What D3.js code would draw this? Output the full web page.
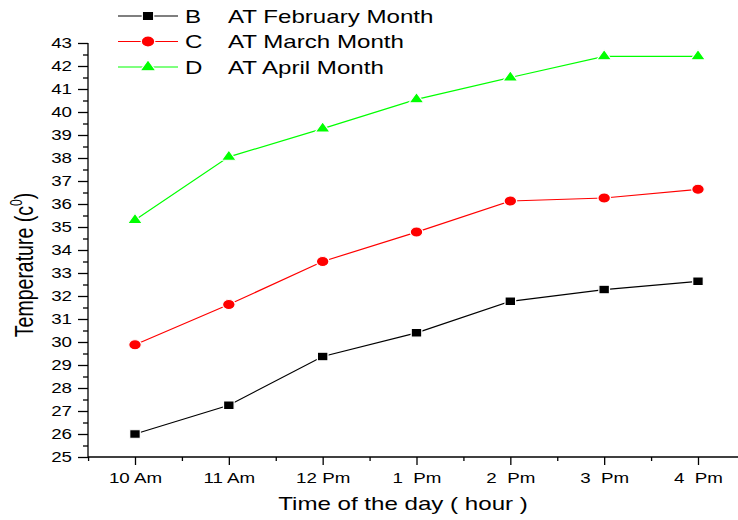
<!DOCTYPE html>
<html>
<head>
<meta charset="utf-8">
<style>
    body { margin: 0; background: #fff; }
    text { font-family: "Liberation Sans", Arial, sans-serif; fill: #000; }
</style>
</head>
<body>
<svg id="chart" width="738" height="520"></svg>
<script src="https://cdn.jsdelivr.net/npm/d3@7"></script>
<script>
    // categories on the x axis
    const hours = ["10 Am", "11 Am", "12 Pm", "1  Pm", "2  Pm", "3  Pm", "4  Pm"]

    // temperature readings
    const february = [26.0, 27.25, 29.37, 30.4, 31.77, 32.28, 32.64]
    const march = [29.88, 31.63, 33.5, 34.78, 36.13, 36.26, 36.64]
    const april = [35.3, 38.05, 39.28, 40.55, 41.5, 42.42, 42.42]

    const seriesLetters = ["B", "C", "D"]
    const seriesLabels = ["AT February Month", "AT March Month", "AT April Month"]
    const yTicks = d3.range(25, 44, 1)

    const stretch = 1.34 // the original picture is stretched sideways

    const svg = d3.select("#chart")

    const x = d3.scaleLinear().domain([0, 6]).range([135, 698])
    const y = d3.scaleLinear().domain([25, 43]).range([457, 43])

    // axis lines
    svg.append("line")
        .attr("x1", 88).attr("x2", 738)
        .attr("y1", y(25)).attr("y2", y(25))
        .attr("stroke", "#000").attr("stroke-width", 1.3)
    svg.append("line")
        .attr("x1", 88).attr("x2", 88)
        .attr("y1", y(43)).attr("y2", y(25))
        .attr("stroke", "#000").attr("stroke-width", 1.3)

    // x axis, major ticks with labels
    let xAxis = svg.append("g")
        .attr("transform", `translate(0,${y(25)})`)
        .call(d3.axisBottom(x).tickValues(d3.range(7)).tickSize(8).tickFormat(i => hours[i]))
    xAxis.select(".domain").remove()
    xAxis.selectAll("line").attr("stroke-width", 1.3)
    xAxis.selectAll("text")
        .attr("y", 16)
        .attr("font-size", 14)
        .attr("transform", `scale(${stretch},1)`)
        .style("white-space", "pre")

    // x minor ticks, between the hours
    let xMinor = svg.append("g")
        .attr("transform", `translate(0,${y(25)})`)
        .call(d3.axisBottom(x).tickValues(d3.range(-0.5, 6.6, 1)).tickSize(4).tickFormat(""))
    xMinor.select(".domain").remove()
    xMinor.selectAll("line").attr("stroke-width", 1.3)

    // y axis
    let yAxis = svg.append("g")
        .attr("transform", "translate(88,0)")
        .call(d3.axisLeft(y).tickValues(yTicks).tickSize(10).tickFormat(d3.format("d")))
    yAxis.select(".domain").remove()
    yAxis.selectAll("line").attr("stroke-width", 1.3)
    yAxis.selectAll("text")
        .attr("x", -16 / stretch)
        .attr("font-size", 14)
        .attr("transform", `scale(${stretch},1)`)

    let yMinor = svg.append("g")
        .attr("transform", "translate(88,0)")
        .call(d3.axisLeft(y).tickValues(d3.range(25.5, 43, 1)).tickSize(5).tickFormat(""))
    yMinor.select(".domain").remove()
    yMinor.selectAll("line").attr("stroke-width", 1.3)

    // axis titles
    svg.append("text")
        .attr("transform", `translate(403,510) scale(${stretch},1)`)
        .attr("text-anchor", "middle")
        .attr("font-size", 18)
        .text("Time of the day ( hour )")

    let yTitle = svg.append("text")
        .attr("transform", `translate(33,265) rotate(-90) scale(1,1.35)`)
        .attr("text-anchor", "middle")
        .attr("font-size", 19.5)
    yTitle.append("tspan").text("Temperature (c")
    yTitle.append("tspan").attr("font-size", 12).attr("dy", -8).text("0")
    yTitle.append("tspan").attr("dy", 8).text(")")

    // series
    const series = [
        { values: february, color: "#000000", shape: d3.symbolSquare, size: 72 },
        { values: march, color: "#ff0000", shape: d3.symbolCircle, size: 80 },
        { values: april, color: "#00ff00", shape: d3.symbolTriangle, size: 60 }
    ]

    let line = d3.line()
        .x((d, i) => x(i))
        .y(d => y(d))

    series.forEach((s, k) => {
        svg.append("path")
            .datum(s.values)
            .attr("fill", "none")
            .attr("stroke", s.color)
            .attr("stroke-width", 1.2)
            .attr("d", line)

        svg.append("g")
            .selectAll("path")
            .data(s.values)
            .enter()
            .append("path")
            .attr("d", d3.symbol().type(s.shape).size(s.size))
            .attr("transform", (d, i) => `translate(${x(i)},${y(d)}) scale(1.25,1)`)
            .attr("fill", s.color)
            .attr("stroke", "#fff")
            .attr("stroke-width", 1)

        // legend row
        let rowY = 16 + k * 25.5
        let legend = svg.append("g")
        legend.append("line")
            .attr("x1", 118).attr("x2", 178)
            .attr("y1", rowY).attr("y2", rowY)
            .attr("stroke", s.color).attr("stroke-width", 1.2)
        legend.append("path")
            .attr("d", d3.symbol().type(s.shape).size(s.size * 1.15))
            .attr("transform", `translate(148,${rowY}) scale(1.25,1)`)
            .attr("fill", s.color)
            .attr("stroke", "#fff")
            .attr("stroke-width", 1)
        legend.append("text")
            .attr("transform", `translate(185,${rowY + 6.5}) scale(${stretch},1)`)
            .attr("font-size", 18)
            .text(seriesLetters[k])
        legend.append("text")
            .attr("transform", `translate(228,${rowY + 6.5}) scale(${stretch},1)`)
            .attr("font-size", 18)
            .text(seriesLabels[k])
    })
</script>
</body>
</html>
